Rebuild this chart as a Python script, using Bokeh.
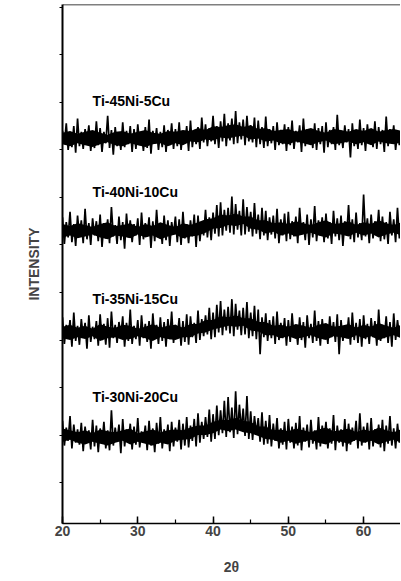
import numpy as np
from bokeh.plotting import figure
from bokeh.models import Range1d, Span, SingleIntervalTicker, CustomJSTickFormatter
from bokeh.core.properties import value
from bokeh.embed import file_html
from bokeh.resources import INLINE

# 2-theta scan grid (degrees), 0.25 deg step
two_theta = np.linspace(20, 65, 181)
# coarse grid (1 deg) for the solid core of each noisy band
two_theta_core = np.linspace(20, 65, 46)

samples = ["Ti-45Ni-5Cu", "Ti-40Ni-10Cu", "Ti-35Ni-15Cu", "Ti-30Ni-20Cu"]
# vertical stacking offsets of each pattern
offsets = [362, 265, 158, 48]
# label positions (2theta, stacked intensity)
label_x = [24.0, 24.0, 24.0, 24.0]
label_y = [452, 356, 243, 140]

counts_5cu = [
    58, 44, 66, 38, 55, 41, 63, 35, 71, 42, 57, 39, 60, 46, 64, 37, 56, 40, 68, 43,
    61, 36, 57, 45, 74, 40, 59, 33, 62, 42, 55, 38, 67, 41, 58, 44, 63, 36, 60, 39,
    65, 43, 56, 37, 62, 40, 70, 34, 58, 45, 61, 38, 57, 41, 64, 36, 59, 43, 66, 39,
    60, 42, 67, 38, 58, 45, 63, 37, 69, 41, 59, 44, 62, 39, 72, 46, 65, 42, 61, 47,
    74, 44, 63, 40, 68, 47, 76, 42, 66, 48, 71, 44, 79, 45, 67, 49, 70, 43, 74, 47,
    64, 46, 72, 41, 69, 44, 62, 40, 73, 42, 60, 45, 63, 38, 67, 43, 59, 44, 65, 37,
    62, 43, 69, 39, 58, 46, 64, 36, 71, 42, 60, 45, 57, 40, 66, 38, 61, 44, 63, 35,
    67, 41, 59, 44, 62, 38, 75, 43, 58, 40, 64, 46, 60, 30, 66, 42, 57, 39, 70, 43,
    61, 37, 65, 45, 58, 41, 68, 39, 62, 44, 59, 36, 73, 42, 60, 45, 64, 38, 57, 43,
    62,
]
counts_10cu = [
    64, 36, 59, 43, 70, 38, 57, 34, 66, 44, 61, 37, 73, 41, 58, 35, 63, 45, 60, 39,
    67, 33, 58, 42, 62, 37, 75, 44, 56, 36, 65, 40, 59, 31, 68, 43, 61, 38, 57, 45,
    63, 35, 69, 41, 58, 44, 64, 32, 60, 39, 72, 43, 57, 36, 66, 40, 61, 34, 59, 46,
    65, 38, 62, 35, 70, 42, 57, 37, 61, 44, 67, 33, 66, 39, 60, 45, 72, 43, 64, 40,
    69, 47, 77, 44, 80, 45, 72, 50, 74, 48, 86, 46, 78, 51, 71, 45, 83, 46, 75, 49,
    70, 44, 79, 47, 67, 41, 74, 45, 71, 40, 64, 46, 66, 42, 73, 37, 62, 45, 68, 39,
    70, 41, 60, 44, 65, 37, 74, 46, 59, 40, 67, 35, 62, 43, 76, 39, 61, 45, 64, 38,
    68, 42, 59, 36, 71, 44, 63, 40, 66, 34, 60, 45, 77, 41, 62, 38, 69, 43, 58, 40,
    88, 44, 63, 37, 67, 42, 60, 46, 72, 39, 65, 41, 59, 36, 70, 45, 62, 38, 74, 42,
    61,
]
counts_15cu = [
    66, 38, 58, 44, 63, 35, 71, 41, 57, 37, 64, 45, 60, 33, 68, 40, 56, 43, 62, 36,
    69, 42, 59, 37, 65, 34, 72, 44, 58, 39, 61, 46, 67, 35, 60, 41, 74, 38, 57, 43,
    63, 36, 68, 44, 59, 40, 62, 33, 70, 45, 58, 38, 66, 41, 61, 35, 64, 43, 72, 39,
    58, 44, 65, 36, 62, 40, 69, 37, 67, 45, 60, 39, 73, 42, 64, 46, 68, 48, 76, 43,
    71, 45, 79, 50, 83, 47, 74, 52, 77, 49, 85, 46, 80, 53, 73, 47, 76, 48, 82, 44,
    71, 46, 78, 43, 74, 27, 66, 45, 70, 41, 63, 44, 67, 38, 72, 42, 60, 44, 65, 36,
    63, 40, 70, 45, 58, 37, 66, 42, 61, 34, 68, 44, 59, 39, 73, 41, 62, 36, 64, 43,
    58, 38, 67, 45, 61, 40, 69, 27, 63, 41, 57, 44, 66, 37, 71, 42, 60, 39, 64, 35,
    68, 43, 59, 38, 65, 45, 62, 36, 74, 41, 58, 44, 67, 39, 61, 35, 70, 42, 63, 46,
    60,
]
counts_20cu = [
    67, 41, 60, 46, 72, 38, 63, 44, 58, 42, 65, 35, 61, 44, 57, 37, 68, 40, 62, 34,
    59, 43, 66, 38, 57, 36, 78, 41, 60, 45, 63, 33, 69, 40, 58, 44, 64, 37, 61, 42,
    70, 39, 56, 45, 62, 36, 67, 41, 59, 34, 65, 43, 71, 38, 58, 44, 63, 35, 66, 40,
    60, 45, 68, 37, 64, 41, 71, 39, 62, 46, 69, 40, 75, 44, 66, 48, 71, 50, 79, 45,
    74, 48, 83, 52, 78, 54, 88, 50, 92, 55, 81, 49, 98, 53, 84, 57, 80, 51, 93, 48,
    77, 47, 72, 53, 70, 45, 76, 42, 67, 43, 73, 40, 64, 46, 70, 38, 59, 42, 66, 37,
    69, 44, 61, 38, 65, 41, 72, 36, 60, 45, 63, 39, 68, 43, 57, 37, 71, 40, 62, 45,
    66, 38, 59, 43, 73, 36, 62, 44, 58, 40, 69, 35, 64, 42, 60, 46, 67, 38, 75, 41,
    61, 44, 65, 37, 70, 40, 58, 45, 63, 39, 68, 35, 62, 43, 72, 41, 59, 38, 64, 44,
    63,
]

# solid dense core of each noise band (upper / lower edge), 1 deg step
core_hi_5cu = [56, 58, 55, 57, 59, 56, 54, 57, 58, 55, 57, 59, 56, 55, 58,
               57, 59, 58, 61, 59, 63, 62, 64, 65, 62, 64, 60, 61, 58, 59,
               60, 57, 59, 61, 58, 56, 60, 59, 57, 60, 58, 61, 57, 59, 60, 58]
core_lo_5cu = [44, 42, 45, 43, 41, 44, 46, 43, 42, 45, 43, 41, 44, 45, 42,
               45, 43, 47, 46, 49, 48, 51, 50, 52, 53, 49, 50, 47, 48, 45,
               44, 47, 45, 43, 46, 48, 44, 45, 47, 44, 46, 43, 47, 45, 44, 46]
core_hi_10cu = [57, 55, 58, 56, 54, 57, 59, 55, 56, 58, 54, 57, 55, 59, 56, 54, 58, 56,
                59, 62, 63, 67, 66, 68, 65, 65, 61, 61, 58,
                59, 57, 60, 58, 56, 59, 61, 57, 58, 60, 56, 59, 57, 61, 58, 56, 59]
core_lo_10cu = [43, 45, 42, 44, 46, 43, 41, 45, 44, 42, 46, 43, 45, 41, 44, 46, 42, 44,
                45, 48, 52, 53, 56, 55, 57, 52, 51, 47, 49,
                45, 47, 44, 46, 48, 45, 43, 47, 46, 44, 48, 45, 47, 43, 46, 48, 45]
core_hi_15cu = [56, 58, 55, 57, 54, 59, 56, 55, 58, 57, 54, 56, 59, 55, 57, 58, 55,
                59, 59, 63, 63, 67, 66, 68, 65, 65, 61, 61, 57,
                58, 56, 59, 57, 55, 58, 60, 56, 57, 59, 55, 58, 56, 60, 57, 55, 58]
core_lo_15cu = [44, 42, 45, 43, 46, 41, 44, 45, 42, 43, 46, 44, 41, 45, 43, 42, 45,
                45, 49, 50, 53, 55, 57, 56, 57, 52, 51, 47, 47,
                44, 46, 43, 45, 47, 44, 42, 46, 45, 43, 47, 44, 46, 42, 45, 47, 44]
core_hi_20cu = [59, 57, 55, 57, 54, 58, 56, 55, 57, 59, 54, 56, 58, 55, 57,
                58, 57, 60, 62, 62, 66, 68, 68, 70, 67, 66, 61, 61, 57,
                58, 56, 59, 57, 55, 58, 60, 56, 57, 59, 55, 58, 56, 60, 57, 55, 58]
core_lo_20cu = [45, 47, 44, 42, 45, 43, 41, 44, 46, 42, 45, 43, 41, 44, 42,
                46, 47, 48, 52, 52, 54, 58, 56, 58, 55, 54, 51, 48, 47,
                44, 46, 43, 45, 47, 44, 42, 46, 45, 43, 47, 44, 46, 42, 45, 47, 44]

series = [counts_5cu, counts_10cu, counts_15cu, counts_20cu]
cores = [(core_lo_5cu, core_hi_5cu), (core_lo_10cu, core_hi_10cu),
         (core_lo_15cu, core_hi_15cu), (core_lo_20cu, core_hi_20cu)]

x_ticks_interval = 10
y_ticks_interval = 50

FONT = "Liberation Sans"
X_END = 64.9
Y_END = 553.0

p = figure(
    width=400, height=580,
    output_backend="svg", toolbar_location=None,
    x_range=Range1d(20, X_END), y_range=Range1d(7, Y_END),
    min_border_left=62, min_border_right=0, min_border_top=4, min_border_bottom=57,
)
p.background_fill_color = "white"
p.border_fill_color = "white"
p.outline_line_color = None
p.grid.visible = False

for counts, (lo, hi), off in zip(series, cores, offsets):
    p.varea(x=two_theta_core, y1=np.asarray(lo, dtype=float) + off,
            y2=np.asarray(hi, dtype=float) + off, fill_color="black")
    p.line(two_theta, np.asarray(counts, dtype=float) + off,
           line_color="black", line_width=1.7)

p.text(x=label_x, y=label_y, text=samples, text_font=value(FONT),
       text_font_size="14px", text_font_style="bold", text_color="black",
       text_baseline="middle", text_align="left")

# top frame line
p.add_layout(Span(location=Y_END, dimension="width", line_color="black", line_width=1.5))

xa = p.xaxis[0]
xa.ticker = SingleIntervalTicker(interval=x_ticks_interval, num_minor_ticks=2)
xa.axis_label = "2θ"
xa.axis_label_text_font = FONT
xa.axis_label_text_font_style = "bold"
xa.axis_label_text_font_size = "14px"
xa.axis_label_standoff = 20
xa.major_label_text_font = FONT
xa.major_label_text_font_style = "bold"
xa.major_label_text_font_size = "14px"
xa.major_label_standoff = 2
xa.major_tick_in = 7
xa.major_tick_out = 0
xa.minor_tick_in = 4
xa.minor_tick_out = 0
xa.axis_line_width = 1.5
xa.major_tick_line_width = 1.5
xa.minor_tick_line_width = 1.2
xa.axis_line_color = "black"
xa.major_tick_line_color = "black"
xa.minor_tick_line_color = "black"

ya = p.yaxis[0]
ya.ticker = SingleIntervalTicker(interval=y_ticks_interval, num_minor_ticks=0)
ya.formatter = CustomJSTickFormatter(code="return ''")
ya.major_label_standoff = 0
ya.axis_label = "INTENSITY"
ya.axis_label_text_font = FONT
ya.axis_label_text_font_style = "bold"
ya.axis_label_text_font_size = "14px"
ya.axis_label_standoff = 18
ya.major_tick_in = 0
ya.major_tick_out = 3
ya.minor_tick_line_color = None
ya.axis_line_width = 2
ya.axis_line_color = "black"
ya.major_tick_line_color = "black"

open("out.html", "w").write(file_html(p, INLINE))
